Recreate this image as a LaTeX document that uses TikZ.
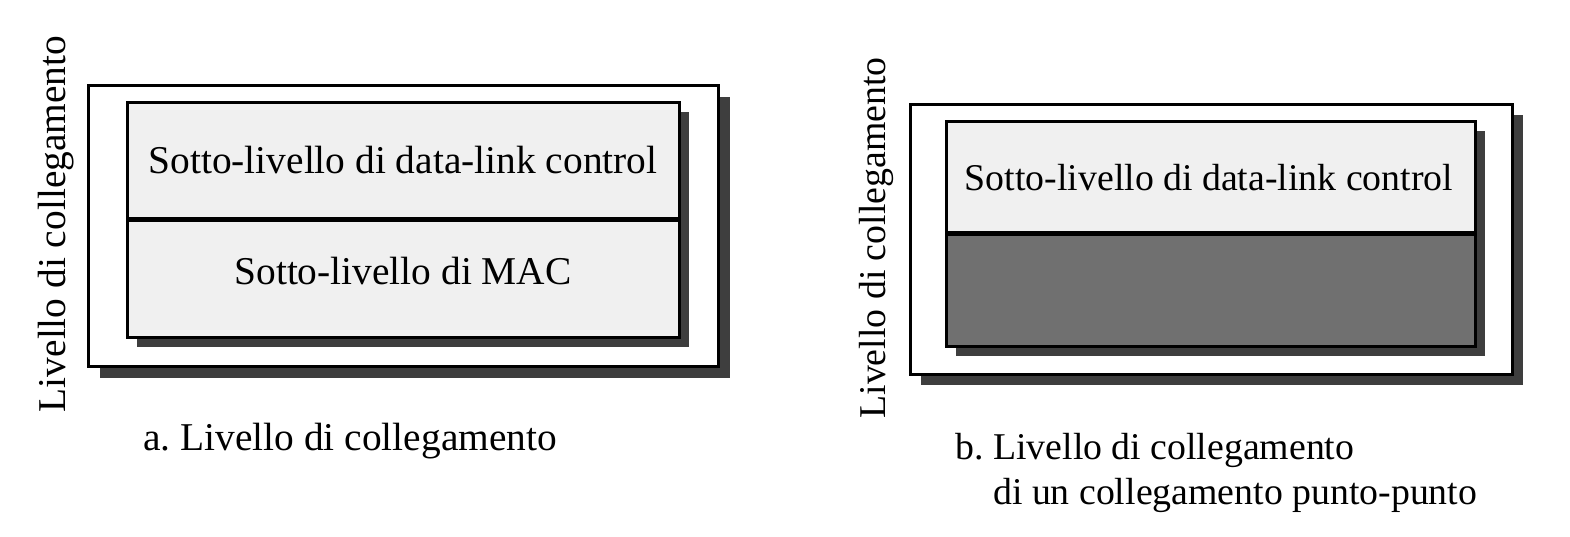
\documentclass[tikz,border=0pt]{standalone}
\usepackage{fontspec}
\setmainfont{Liberation Serif}
\frenchspacing
\definecolor{shadowgray}{RGB}{62,62,62}
\definecolor{lightlayer}{RGB}{240,240,240}
\definecolor{darklayer}{RGB}{112,112,112}
\begin{document}
\begin{tikzpicture}[x=0.5pt,y=-0.5pt,
  shadowbox/.style={fill=shadowgray},
  frame/.style={draw=black,line width=1.5pt,fill=white},
  layer/.style={draw=black,line width=1.5pt,fill=lightlayer},
  darkpart/.style={draw=black,line width=1.5pt,fill=darklayer},
  divider/.style={line width=2.5pt},
  lbl/.style={font=\fontsize{19.7}{22.5}\selectfont, inner sep=0pt},
  lblb/.style={font=\fontsize{18.9}{22.5}\selectfont, inner sep=0pt},
]
\useasboundingbox (0,0) rectangle (1570,536);
% ---------- panel a ----------
\fill[shadowbox] (100,97) rectangle (730,378);
\draw[frame] (88,85) rectangle (718,366);
\fill[shadowbox] (137,112) rectangle (689,347);
\draw[layer] (127,102) rectangle (679,337);
\draw[divider] (127,219) -- (679,219);
\node[lbl] (dlcA) at (403,160) {Sotto-livello di data-link control};
\node[lbl] (mac) at (403,271) {Sotto-livello di MAC};
\node[lbl,rotate=90] (sideA) at (56,224) {Livello di collegamento};
\node[lbl,anchor=west] (capA) at (143,441) {a. Livello di collegamento};
% ---------- panel b ----------
\fill[shadowbox] (921,115) rectangle (1523,385);
\draw[frame] (910,104) rectangle (1512,374);
\fill[shadowbox] (956,131) rectangle (1485,356);
\draw[layer] (946,121) rectangle (1475,233);
\draw[darkpart] (946,233) rectangle (1475,346);
\draw[divider] (946,233) -- (1475,233);
\node[lblb] (dlcB) at (1209,178) {Sotto-livello di data-link control};
\node[lblb,rotate=90] (sideB) at (876,238) {Livello di collegamento};
\node[lblb,anchor=north west,align=left] (capB) at (955,433) {b. Livello di collegamento\\\phantom{b.}\ di un collegamento punto-punto};
\end{tikzpicture}
\end{document}
